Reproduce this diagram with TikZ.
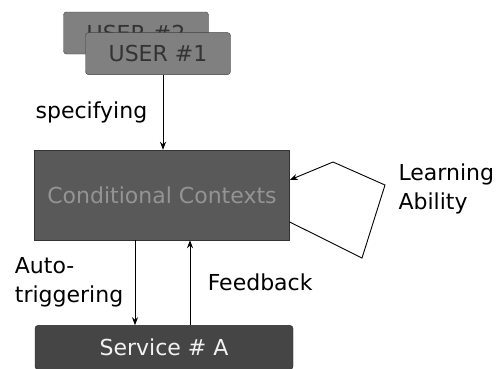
\documentclass[tikz,border=0pt]{standalone}
\usepackage{fontspec}
\setmainfont{DejaVu Sans}
\usetikzlibrary{positioning,arrows.meta}

\begin{document}
\begin{tikzpicture}[x=1pt, y=-1pt, every node/.style={align=center, font=\fontsize{22}{29}\selectfont},
  usrbox/.style={draw=black!75, fill=black!50, text=black!80, rounded corners=3pt, minimum width=145pt, minimum height=42pt, inner sep=0pt},
  arr/.style={-{Stealth[length=8pt,width=6pt]}, line width=0.9pt}]
\useasboundingbox (0,0) rectangle (502,368);
\node (CC) [draw=black!80, fill=black!65, text=black!42, minimum width=255pt, minimum height=90pt, inner sep=0pt] at (162,195) {Conditional Contexts};
\node (U2) [usrbox] at (136,33) {USER \#2};
\node (U1) [usrbox, above=75pt of CC, xshift=-4pt] {USER \#1};
\node (SA) [draw=black!85, fill=black!73, text=black!5, rounded corners=3pt, minimum width=258pt, minimum height=44pt, inner sep=0pt, below=85pt of CC, xshift=2pt] {Service \# A};

\draw[arr] (U1.south -| 163,0) -- (CC.north -| 163,0) node[midway,left=12pt] {specifying};
\draw[arr] (CC.south -| 135,0) -- (SA.north -| 135,0) node[midway,left=8pt, align=left] {Auto-\\triggering};
\draw[arr] (SA.north -| 190,0) -- (CC.south -| 190,0) node[midway,right=14pt] {Feedback};

\coordinate (L1) at (362,258);
\coordinate (L2) at (385,185);
\coordinate (L3) at (333,162);
\draw[arr] ([yshift=-27pt]CC.east) -- (L1) -- (L2) -- (L3) -- ([yshift=15pt]CC.east);
\node (LA) [anchor=west, align=left] at (395,189) {Learning\\Ability};
\end{tikzpicture}
\end{document}
